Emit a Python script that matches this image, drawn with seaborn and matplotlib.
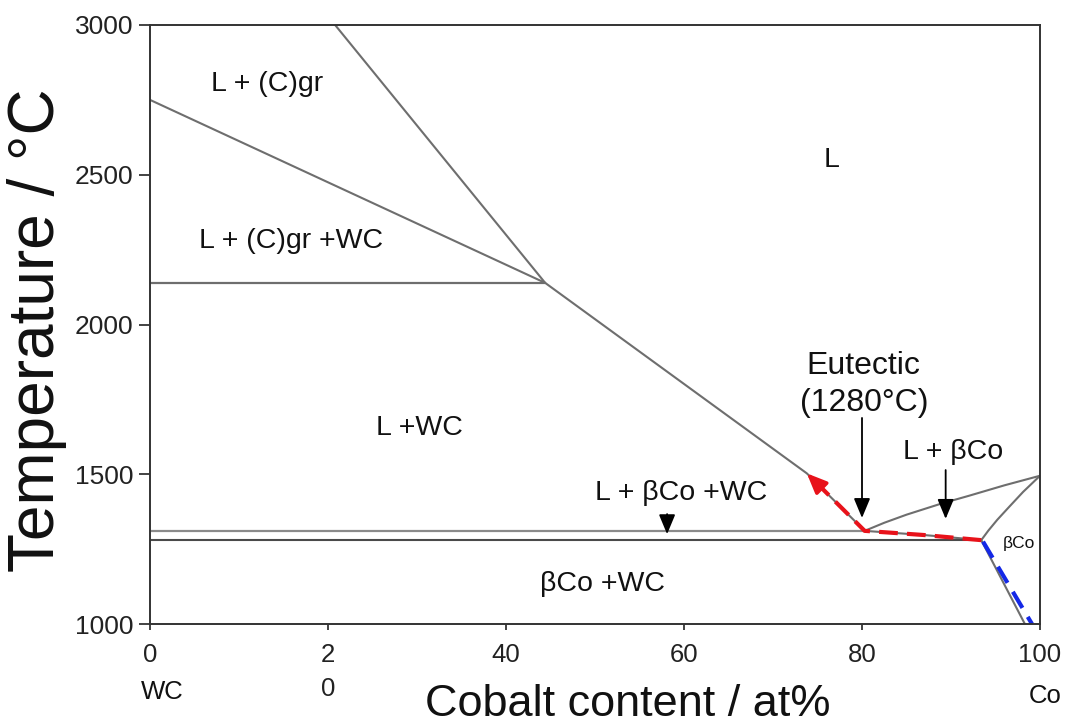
import matplotlib
matplotlib.use("Agg")
import matplotlib.pyplot as plt
import seaborn as sns
import pandas as pd

# ---- phase boundaries of the WC–Co section (Co at%, temperature °C) ----
graphite_liquidus_x = [20.8, 44.4]
graphite_liquidus_t = [3000, 2139]

wc_graphite_x = [0.0, 44.4]
wc_graphite_t = [2750, 2139]

graphite_invariant_x = [0.0, 44.4]
graphite_invariant_t = [2139, 2139]

wc_liquidus_x = [44.4, 73.8, 80.3]
wc_liquidus_t = [2139, 1503, 1311]

co_liquidus_x = [80.3, 82.5, 85.0, 88.8, 92.0, 96.0, 100.0]
co_liquidus_t = [1311, 1338, 1365, 1401, 1428, 1463, 1495]

co_solidus_x = [93.4, 94.2, 95.2, 96.5, 98.1, 100.0]
co_solidus_t = [1280, 1312, 1348, 1390, 1441, 1495]

eutectic_valley_x = [80.3, 87.0, 93.4]
eutectic_valley_t = [1311, 1297, 1280]

upper_isotherm_x = [0.0, 80.3]
upper_isotherm_t = [1311, 1311]

eutectic_isotherm_x = [0.0, 93.4]
eutectic_isotherm_t = [1280, 1280]

co_solvus_x = [93.4, 98.3]
co_solvus_t = [1280, 1000]

# ---- solidification path (red) and solid-state path (blue) ----
red_path_x = [93.4, 87.0, 80.3, 75.2, 73.8]
red_path_t = [1280, 1297, 1311, 1462, 1503]

blue_path_x = [93.6, 99.1]
blue_path_t = [1275, 1000]

# ---- axis ticks ----
x_ticks = [0, 20, 40, 60, 80, 100]
x_tick_labels = ["0", "2\n0", "40", "60", "80", "100"]
y_ticks = [1000, 1500, 2000, 2500, 3000]
y_tick_labels = ["1000", "1500", "2000", "2500", "3000"]

sns.set_theme(style="white")
plt.rcParams["font.family"] = ["Liberation Sans", "DejaVu Sans"]

fig = plt.figure(figsize=(10.72, 7.24), dpi=100)
ax = fig.add_axes([150 / 1072, 1 - 624 / 724, 890 / 1072, 599 / 724])

grey = "#6e6e6e"
boundaries = [
    (graphite_liquidus_x, graphite_liquidus_t, grey, 1.5),
    (wc_graphite_x, wc_graphite_t, grey, 1.5),
    (graphite_invariant_x, graphite_invariant_t, grey, 1.6),
    (wc_liquidus_x, wc_liquidus_t, grey, 1.5),
    (co_liquidus_x, co_liquidus_t, grey, 1.5),
    (co_solidus_x, co_solidus_t, grey, 1.5),
    (eutectic_valley_x, eutectic_valley_t, grey, 1.5),
    (upper_isotherm_x, upper_isotherm_t, "#8a8a8a", 1.6),
    (eutectic_isotherm_x, eutectic_isotherm_t, "#4a4a4a", 1.5),
    (co_solvus_x, co_solvus_t, grey, 1.5),
]
for bx, bt, col, lw in boundaries:
    df = pd.DataFrame({"x": bx, "t": bt})
    sns.lineplot(data=df, x="x", y="t", sort=False, estimator=None,
                 color=col, lw=lw, ax=ax)

# solidification path with arrowhead at its end
red = "#e8121a"
sns.lineplot(x=red_path_x[:-1], y=red_path_t[:-1], sort=False, estimator=None,
             color=red, lw=3.0, ax=ax)
ax.lines[-1].set_dashes([4.5, 2.2])
ax.annotate("", xy=(red_path_x[-1], red_path_t[-1]),
            xytext=(red_path_x[-2], red_path_t[-2]),
            arrowprops=dict(arrowstyle="-|>,head_length=0.75,head_width=0.32",
                            color=red, lw=2.5, shrinkA=0, shrinkB=0,
                            mutation_scale=16))

blue = "#1428e6"
sns.lineplot(x=blue_path_x, y=blue_path_t, sort=False, estimator=None,
             color=blue, lw=3.0, ax=ax)
ax.lines[-1].set_dashes([4.5, 2.5])

# pointer arrows
arrow_kw = dict(arrowstyle="-|>,head_length=0.6,head_width=0.25",
                color="black", lw=1.3, shrinkA=0, shrinkB=0, mutation_scale=20)
ax.annotate("", xy=(80.0, 1354), xytext=(80.0, 1688), arrowprops=arrow_kw)
ax.annotate("", xy=(89.4, 1351), xytext=(89.4, 1514), arrowprops=arrow_kw)
ax.annotate("", xy=(58.1, 1300), xytext=(58.1, 1367), arrowprops=arrow_kw)

# phase-field labels
lab = dict(ha="center", va="center", fontsize=20.5, color="#111111")
ax.text(13.1, 2803, "L + (C)gr", **lab)
ax.text(76.6, 2549, "L", **lab)
ax.text(15.8, 2279, "L + (C)gr +WC", **lab)
ax.text(30.3, 1654, "L +WC", **lab)
ax.text(90.2, 1574, "L + βCo", **lab)
ax.text(59.7, 1438, "L + βCo +WC", **lab)
ax.text(50.8, 1135, "βCo +WC", **lab)
ax.text(97.6, 1270, "βCo", ha="center", va="center", fontsize=12.5,
        color="#111111")
ax.text(80.2, 1800, "Eutectic\n(1280°C)", ha="center", va="center",
        fontsize=23, linespacing=1.3, color="#111111")

# axes, ticks and titles
ax.set_xlim(0, 100)
ax.set_ylim(1000, 3000)
ax.set_xticks(x_ticks)
ax.set_xticklabels(x_tick_labels, fontsize=18.5, linespacing=1.5)
ax.set_yticks(y_ticks)
ax.set_yticklabels(y_tick_labels, fontsize=19)
ax.tick_params(axis="x", direction="out", length=4, width=1.2, pad=10,
               colors="#222222", bottom=True)
ax.tick_params(axis="y", direction="out", length=8, width=1.2, pad=4,
               colors="#222222", left=True)
for s in ax.spines.values():
    s.set_color("#333333")
    s.set_linewidth(1.4)
    s.set_visible(True)

ax.set_xlabel("Cobalt content / at%", fontsize=32.5, va="center", color="#111111")
ax.xaxis.set_label_coords(0.537, -0.134)
ax.set_ylabel("Temperature / °C", fontsize=46, va="center", color="#111111")
ax.yaxis.set_label_coords(-0.127, 0.4908)

end_kw = dict(fontsize=18.5, ha="center", va="center", color="#111111",
              transform=ax.get_xaxis_transform(), clip_on=False)
ax.text(1.35, -0.1135, "WC", **end_kw)
ax.text(100.6, -0.1202, "Co", **end_kw)

fig.savefig("out.png", dpi=100)
